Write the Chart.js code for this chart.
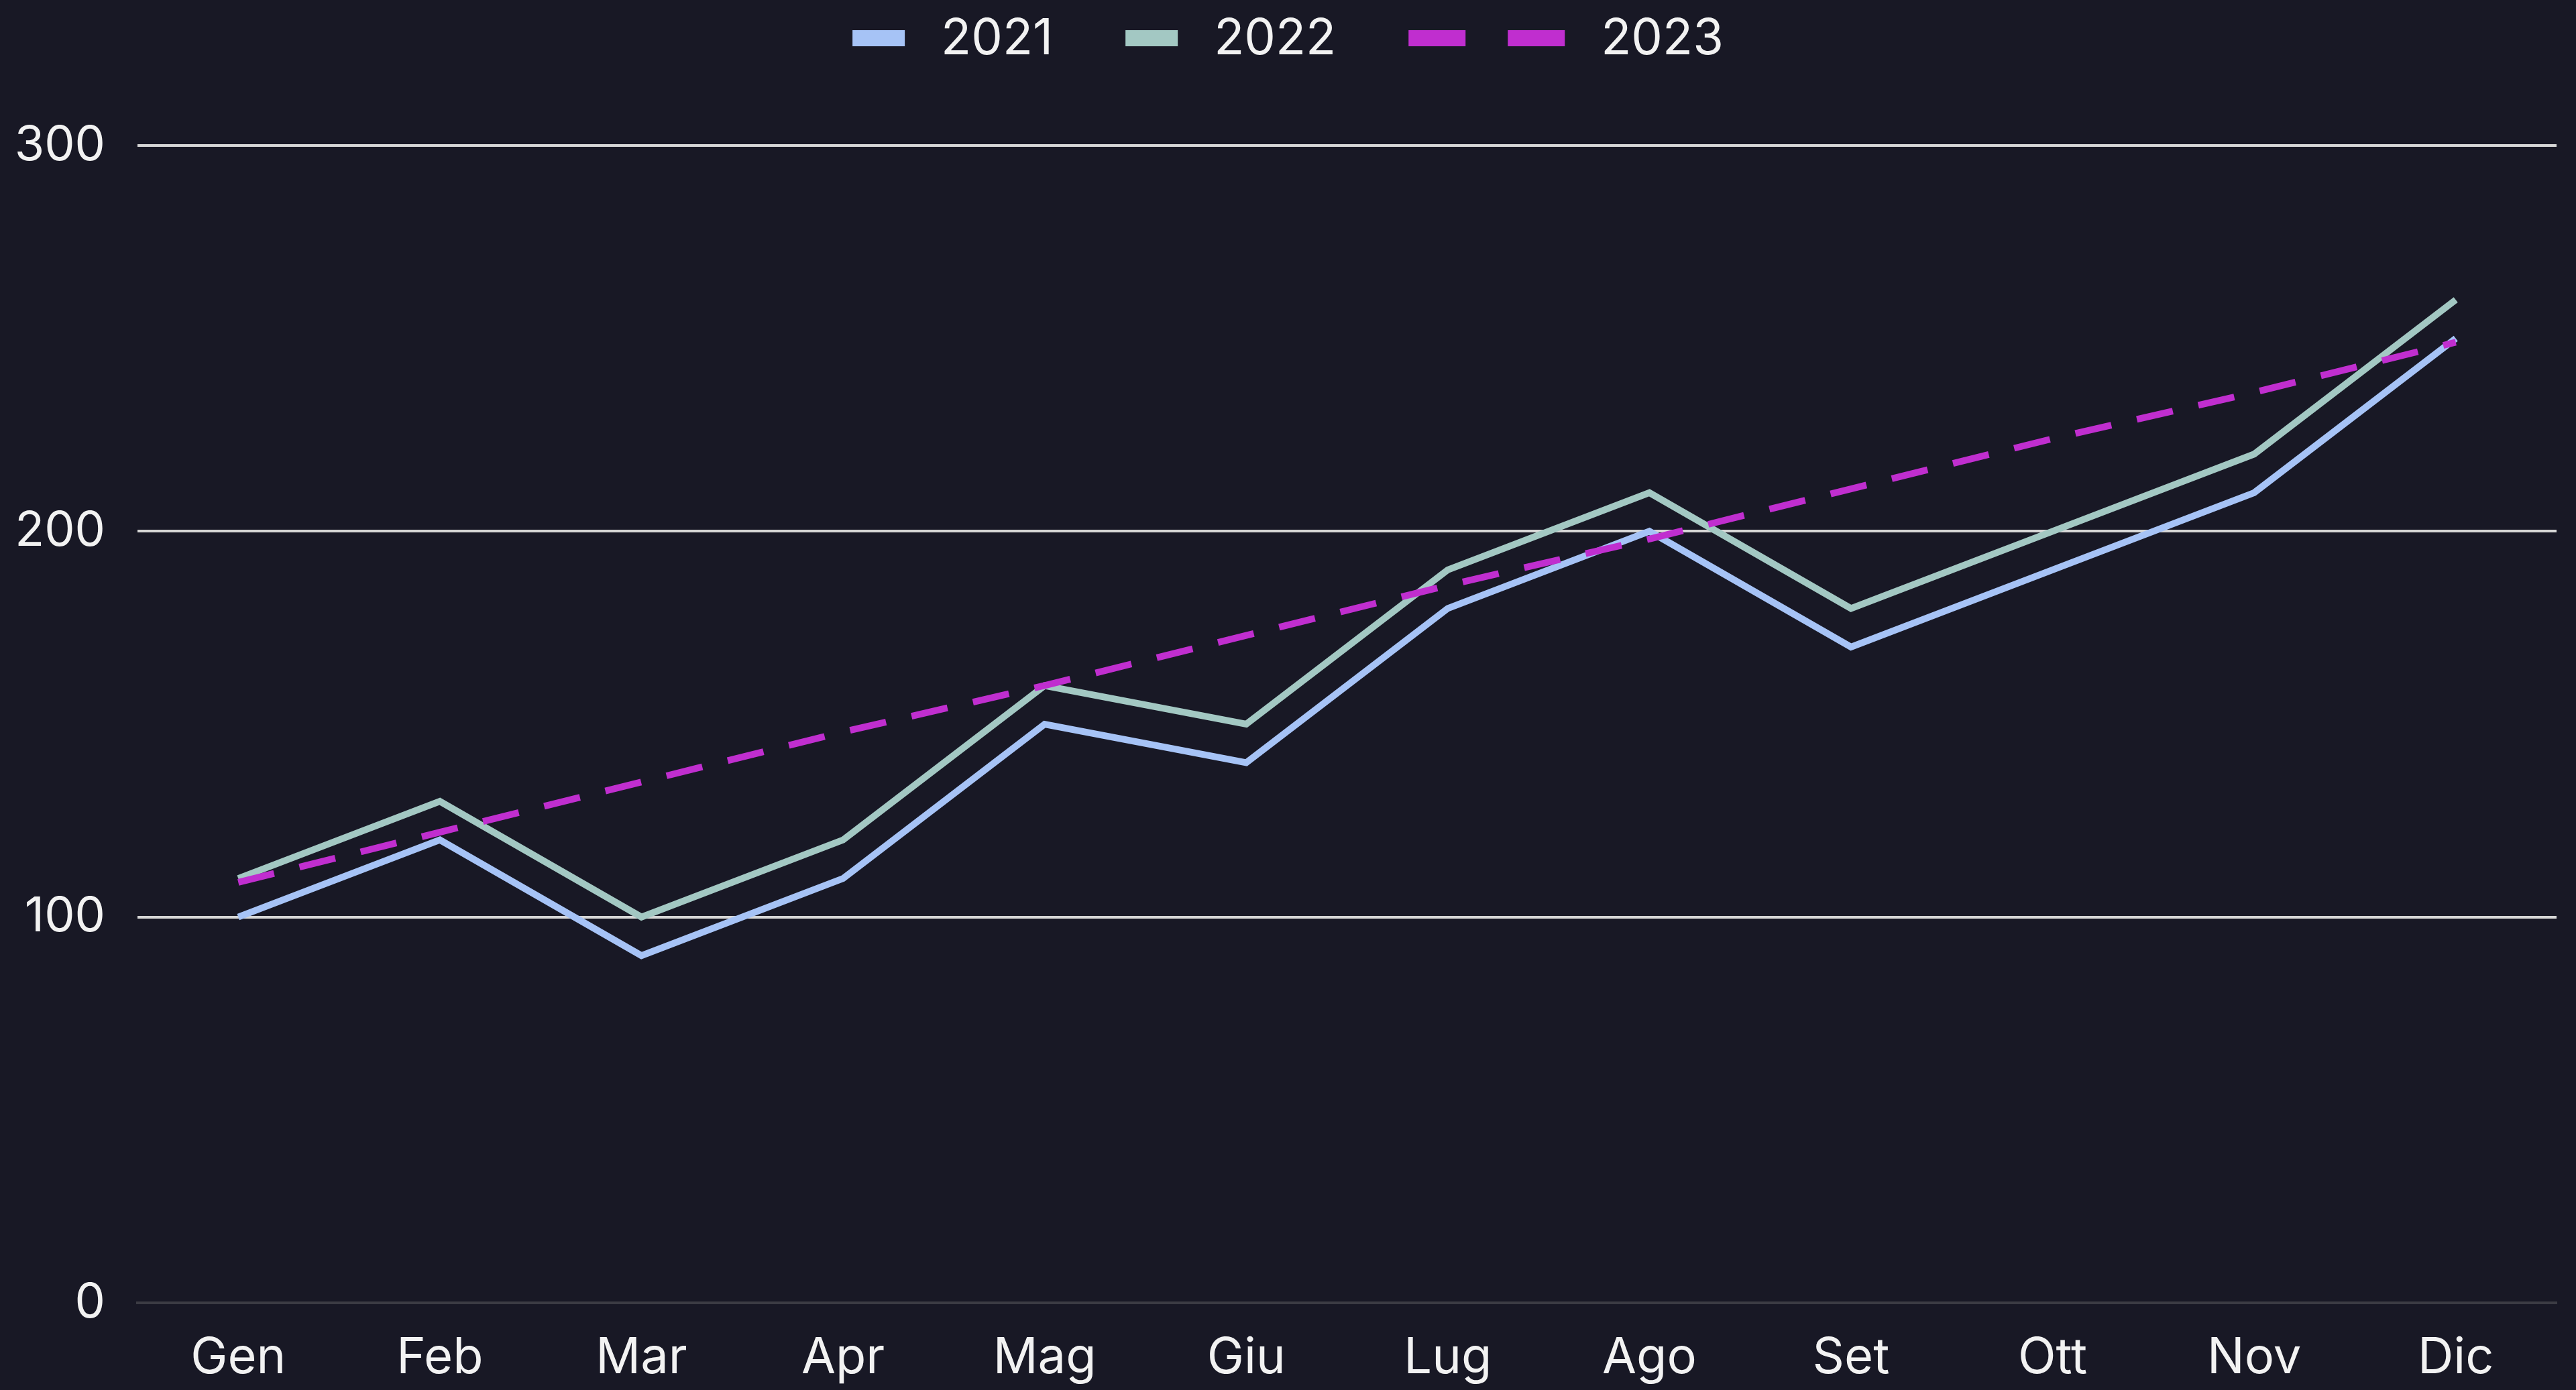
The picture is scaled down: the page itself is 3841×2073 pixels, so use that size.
<!DOCTYPE html>
<html>
<head>
<meta charset="utf-8">
<script src="https://cdn.jsdelivr.net/npm/chart.js@4/dist/chart.umd.min.js"></script>
<style>
  html, body { margin: 0; padding: 0; background: #181825; }
  #wrap { width: 3841px; height: 2073px; position: relative; }
</style>
</head>
<body>
<div id="wrap"><canvas id="c"></canvas></div>
<script>
const months = ['Gen','Feb','Mar','Apr','Mag','Giu','Lug','Ago','Set','Ott','Nov','Dic'];
const labels2021 = '2021';
const labels2022 = '2022';
const labels2023 = '2023';
const values2021 = [100, 120, 90, 110, 150, 140, 180, 200, 170, 190, 210, 250];
const values2022 = [110, 130, 100, 120, 160, 150, 190, 210, 180, 200, 220, 260];
const values2023 = [109, 122, 135, 148, 160, 173, 186, 198, 211, 224, 236, 249];
const yTicks = [0, 100, 200, 300];

const COL21 = '#a6c3f6';
const COL22 = '#a3c8c3';
const COL23 = '#c02ecf';
const TEXT = '#f2f2f2';
const FONT = 'Inter, "Liberation Sans", Arial, sans-serif';
const FSIZE = 74;

const customLegend = {
  id: 'customLegend',
  afterDraw(chart) {
    const ctx = chart.ctx;
    ctx.save();
    ctx.font = FSIZE + 'px ' + FONT;
    ctx.textBaseline = 'alphabetic';
    ctx.fillStyle = TEXT;
    const items = chart.data.datasets.map(ds => ({
      text: ds.label,
      color: ds.borderColor,
      dashed: Array.isArray(ds.borderDash) && ds.borderDash.length > 0,
      boxW: (Array.isArray(ds.borderDash) && ds.borderDash.length > 0) ? 233 : 78,
      tw: ctx.measureText(ds.label).width
    }));
    const gapBoxText = 54, gapItems = 108;
    let total = 0;
    items.forEach((it, i) => { total += it.boxW + gapBoxText + it.tw + (i ? gapItems : 0); });
    let x = chart.width / 2 - total / 2;
    const cy = 57;
    items.forEach(it => {
      if (it.dashed) {
        ctx.strokeStyle = it.color;
        ctx.lineWidth = 24;
        ctx.lineCap = 'butt';
        ctx.setLineDash([85, 63]);
        ctx.beginPath();
        ctx.moveTo(x, cy);
        ctx.lineTo(x + it.boxW, cy);
        ctx.stroke();
        ctx.setLineDash([]);
      } else {
        ctx.fillStyle = it.color;
        ctx.fillRect(x, cy - 12, it.boxW, 24);
      }
      x += it.boxW + gapBoxText;
      ctx.fillStyle = TEXT;
      ctx.fillText(it.text, x, 81);
      x += it.tw + gapItems;
    });
    ctx.restore();
  }
};

Chart.defaults.font.family = FONT;

new Chart(document.getElementById('c'), {
  type: 'line',
  data: {
    labels: months,
    datasets: [
      { label: labels2021, data: values2021, borderColor: COL21, backgroundColor: COL21,
        borderWidth: 10, pointRadius: 0, tension: 0, order: 2 },
      { label: labels2022, data: values2022, borderColor: COL22, backgroundColor: COL22,
        borderWidth: 10, pointRadius: 0, tension: 0, order: 1 },
      { label: labels2023, data: values2023, borderColor: COL23, backgroundColor: COL23,
        borderWidth: 10, borderDash: [55, 39], pointRadius: 0, tension: 0, order: 0 }
    ]
  },
  options: {
    responsive: true,
    maintainAspectRatio: false,
    animation: false,
    devicePixelRatio: 1,
    layout: { padding: { top: 217, right: 29, left: 0, bottom: 0 } },
    plugins: {
      legend: { display: false },
      tooltip: { enabled: false }
    },
    scales: {
      x: {
        offset: true,
        grid: { display: false, drawTicks: false },
        border: { display: true, color: '#3c3c44', width: 4 },
        ticks: { color: TEXT, font: { size: FSIZE }, padding: 38, maxRotation: 0, autoSkip: false },
        afterFit(scale) { scale.height = 130; }
      },
      y: {
        min: 0,
        max: 300,
        afterBuildTicks(scale) { scale.ticks = yTicks.map(v => ({ value: v })); },
        grid: {
          drawTicks: false,
          lineWidth: 4,
          color: ctx => (ctx.tick && ctx.tick.value === 0) ? '#3c3c44' : '#d6d6d6'
        },
        border: { display: false },
        ticks: { color: TEXT, font: { size: 72 }, padding: 48 },
        afterFit(scale) { scale.width = 205; }
      }
    }
  },
  plugins: [customLegend]
});
</script>
</body>
</html>
